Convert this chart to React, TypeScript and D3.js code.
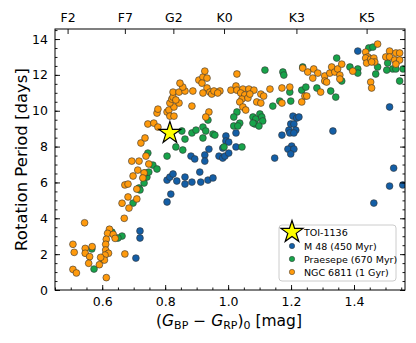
import React, { useEffect, useRef } from 'react';
import * as d3 from 'd3';

const W = 416;
const H = 343;

// spectral types on the top axis, at their (BP-RP)0 colours
const spTypes = ['F2', 'F7', 'G2', 'K0', 'K3', 'K5'];
const spColors = [0.49, 0.672, 0.826, 0.987, 1.217, 1.44];

const xTicks = [0.6, 0.8, 1.0, 1.2, 1.4];
const yTicks = [0, 2, 4, 6, 8, 10, 12, 14];

const legendLabels = ['TOI-1136', 'M 48 (450 Myr)', 'Praesepe (670 Myr)', 'NGC 6811 (1 Gyr)'];

// [BP-RP, Prot]
const toi1136: [number, number] = [0.815, 8.76];

const m48: [number, number][] = [
  [0.707, 1.78], [0.72, 3.29], [0.72, 2.9], [0.806, 4.91], [0.818, 5.35],
  [0.806, 6.13], [0.815, 6.3], [0.825, 6.47], [0.837, 6.08], [0.863, 6.3],
  [0.863, 5.91], [0.885, 6.02], [0.91, 6.58], [0.913, 6.02], [0.936, 6.13],
  [0.952, 6.25], [0.882, 7.47], [0.894, 7.31], [0.926, 7.53], [0.926, 7.19],
  [0.939, 7.86], [0.971, 7.47], [0.983, 7.36], [0.99, 7.47], [1.002, 7.64],
  [0.983, 7.92], [0.993, 8.59], [0.993, 8.31], [1.002, 8.25], [1.025, 8.76],
  [1.025, 7.98], [1.148, 7.36], [1.171, 8.64], [1.193, 8.92], [1.196, 8.76],
  [1.206, 9.7], [1.218, 9.59], [1.225, 9.65], [1.199, 9.26], [1.209, 9.26],
  [1.215, 8.92], [1.209, 8.76], [1.202, 8.03], [1.19, 7.86], [1.209, 7.86],
  [1.199, 7.59], [1.333, 8.87], [1.412, 13.33], [1.513, 10.21], [1.463, 4.85],
  [1.513, 5.8], [1.526, 6.8], [1.555, 5.86],
];

const praesepe: [number, number][] = [
  [0.567, 2.29], [0.574, 1.17], [0.603, 1.7], [0.631, 3.23], [0.663, 3.01],
  [0.65, 2.9], [0.698, 4.85], [0.717, 5.69], [0.72, 5.58], [0.733, 5.97],
  [0.742, 6.3], [0.736, 6.53], [0.748, 6.58], [0.761, 6.97], [0.774, 6.75],
  [0.745, 7.64], [0.806, 7.47], [0.834, 7.98], [0.856, 7.81], [0.863, 8.42],
  [0.853, 8.87], [0.885, 8.76], [0.898, 8.92], [0.92, 9.09], [0.929, 8.87],
  [0.92, 8.48], [0.952, 8.7], [0.958, 8.64], [0.936, 9.48], [0.987, 7.98],
  [1.044, 7.98], [1.028, 9.93], [1.018, 9.65], [1.018, 9.15], [1.037, 9.31],
  [1.031, 9.15], [1.079, 9.65], [1.088, 9.54], [1.101, 9.82], [1.107, 9.65],
  [1.11, 9.43], [1.085, 9.26], [1.098, 9.15], [1.079, 9.31], [1.142, 10.26],
  [1.164, 10.54], [1.199, 10.54], [1.196, 11.04], [1.117, 12.27], [1.174, 12.16],
  [1.177, 11.99], [1.237, 12.44], [1.234, 11.15], [1.247, 11.32], [1.282, 11.27],
  [1.326, 11.1], [1.342, 10.76], [1.345, 12.94], [1.361, 11.66], [1.387, 12.44],
  [1.412, 12.33], [1.412, 12.1], [1.447, 13.5], [1.46, 13.55], [1.469, 12.05],
  [1.475, 12.44], [1.507, 12.66], [1.523, 12.33], [1.504, 12.27], [1.533, 12.33],
  [1.556, 12.33], [1.545, 11.66],
];

const ngc6811: [number, number][] = [
  [0.623, 3.39], [0.617, 3.16], [0.635, 3.1], [0.641, 2.88], [0.613, 2.83],
  [0.611, 2.55], [0.611, 2.23], [0.62, 2.05], [0.609, 1.95], [0.607, 1.67],
  [0.595, 1.82], [0.591, 1.41], [0.613, 0.69], [0.507, 2.55], [0.511, 2.1],
  [0.546, 2.32], [0.568, 2.42], [0.546, 2.05], [0.56, 1.86], [0.557, 1.49],
  [0.507, 1.15], [0.518, 0.95], [0.544, 3.75], [0.672, 2.01], [0.67, 4.0],
  [0.663, 4.84], [0.685, 4.57], [0.682, 5.19], [0.71, 5.08], [0.672, 5.86],
  [0.682, 5.91], [0.71, 5.63], [0.698, 6.36], [0.713, 6.69], [0.733, 6.53],
  [0.729, 6.25], [0.694, 7.19], [0.717, 7.19], [0.748, 7.03], [0.739, 7.47],
  [0.723, 8.2], [0.736, 8.48], [0.745, 9.26], [0.764, 9.31], [0.777, 9.09],
  [0.774, 9.87], [0.777, 10.09], [0.806, 9.93], [0.812, 10.04], [0.815, 9.7],
  [0.828, 9.7], [0.828, 10.21], [0.815, 10.43], [0.844, 10.43], [0.821, 10.65],
  [0.825, 10.76], [0.834, 10.6], [0.825, 11.04], [0.844, 11.04], [0.863, 11.1],
  [0.856, 11.32], [0.847, 11.54], [0.888, 11.1], [0.885, 10.26], [0.907, 11.71],
  [0.92, 11.88], [0.933, 11.82], [0.926, 12.21], [0.917, 11.54], [0.933, 11.27],
  [0.942, 11.04], [0.948, 10.93], [0.955, 11.1], [0.974, 11.1], [0.967, 10.99],
  [0.92, 10.99], [0.939, 9.93], [0.929, 9.65], [1.009, 11.15], [1.025, 11.38],
  [1.028, 11.15], [1.028, 12.05], [1.047, 11.21], [1.066, 11.21], [1.082, 11.15],
  [1.04, 10.99], [1.053, 10.88], [1.044, 10.65], [1.063, 10.71], [1.069, 10.93],
  [1.104, 10.93], [1.113, 10.82], [1.091, 10.49], [1.104, 10.43], [1.037, 10.49],
  [1.047, 10.21], [1.056, 10.04], [1.133, 11.21], [1.171, 11.27], [1.196, 11.32],
  [1.171, 10.43], [1.237, 12.38], [1.253, 12.16], [1.272, 12.33], [1.269, 11.82],
  [1.285, 12.1], [1.307, 11.94], [1.307, 11.66], [1.313, 11.6], [1.323, 12.1],
  [1.329, 12.44], [1.339, 12.16], [1.348, 12.33], [1.361, 12.6], [1.355, 11.99],
  [1.355, 11.77], [1.294, 11.04], [1.234, 10.49], [1.244, 10.82], [1.25, 10.82],
  [1.396, 12.21], [1.437, 13.27], [1.444, 13.0], [1.437, 12.94], [1.44, 12.66],
  [1.453, 12.88], [1.463, 12.94], [1.466, 12.72], [1.456, 12.72], [1.475, 13.72],
  [1.501, 13.0], [1.513, 13.33], [1.533, 13.22], [1.545, 13.22], [1.513, 13.0],
  [1.529, 12.83], [1.545, 12.83], [1.533, 12.6], [1.453, 11.6], [1.456, 11.27],
];

const colM48 = '#135ea6';
const colPraesepe = '#17a34a';
const colNgc = '#ff9a0c';

export default function App() {
  const svgRef = useRef<SVGSVGElement>(null);

  useEffect(() => {
    const svg = d3.select(svgRef.current);
    svg.selectAll('*').remove();

    const left = 55, right = 405, top = 29, bottom = 290;
    const x = d3.scaleLinear().domain([0.45, 1.562]).range([left, right]);
    const y = d3.scaleLinear().domain([0, 14.56]).range([bottom, top]);

    svg.append('defs').append('clipPath').attr('id', 'plotclip')
      .append('rect').attr('x', left).attr('y', top)
      .attr('width', right - left).attr('height', bottom - top);

    const pts = svg.append('g').attr('clip-path', 'url(#plotclip)');
    const drawSet = (data: [number, number][], color: string) => {
      pts.append('g').selectAll('circle')
        .data(data)
        .join('circle')
        .attr('cx', d => x(d[0]))
        .attr('cy', d => y(d[1]))
        .attr('r', 3.4)
        .attr('fill', color)
        .attr('stroke', '#333')
        .attr('stroke-width', 0.6);
    };
    drawSet(m48, colM48);
    drawSet(praesepe, colPraesepe);
    drawSet(ngc6811, colNgc);

    const star = d3.symbol().type(d3.symbolStar).size(150);
    svg.append('path')
      .attr('d', star()!)
      .attr('transform', `translate(${x(toi1136[0])},${y(toi1136[1])})`)
      .attr('fill', '#ffff00')
      .attr('stroke', '#000')
      .attr('stroke-width', 1.2)
      .attr('stroke-linejoin', 'miter');

    // axes, ticks pointing inward
    const styleAxis = (g: d3.Selection<SVGGElement, unknown, null, undefined>) => {
      g.select('.domain').remove();
      g.selectAll('line').attr('stroke', '#000').attr('stroke-width', 0.9);
      g.selectAll('text').attr('fill', '#000').attr('font-size', 12.5)
        .attr('font-family', 'DejaVu Sans');
    };
    const xMinor = d3.range(0.45, 1.5601, 0.05);
    const yMinor = d3.range(0, 14.51, 0.5);

    svg.append('g').attr('transform', `translate(0,${bottom})`)
      .call(d3.axisBottom(x).tickValues(xMinor).tickSize(-2.5).tickFormat(() => ''))
      .call(styleAxis);
    svg.append('g').attr('transform', `translate(0,${bottom})`)
      .call(d3.axisBottom(x).tickValues(xTicks).tickSize(-5).tickPadding(7).tickFormat(d3.format('.1f')))
      .call(styleAxis);

    svg.append('g').attr('transform', `translate(${left},0)`)
      .call(d3.axisLeft(y).tickValues(yMinor).tickSize(-2.5).tickFormat(() => ''))
      .call(styleAxis);
    svg.append('g').attr('transform', `translate(${left},0)`)
      .call(d3.axisLeft(y).tickValues(yTicks).tickSize(-5).tickPadding(7).tickFormat(d3.format('d')))
      .call(styleAxis);

    svg.append('g').attr('transform', `translate(${right},0)`)
      .call(d3.axisRight(y).tickValues(yMinor).tickSize(-2.5).tickFormat(() => ''))
      .call(styleAxis);
    svg.append('g').attr('transform', `translate(${right},0)`)
      .call(d3.axisRight(y).tickValues(yTicks).tickSize(-5).tickFormat(() => ''))
      .call(styleAxis);

    svg.append('g').attr('transform', `translate(0,${top})`)
      .call(d3.axisTop(x).tickValues(spColors).tickSize(-5).tickPadding(7)
        .tickFormat((d, i) => spTypes[i]))
      .call(styleAxis);

    svg.append('rect')
      .attr('x', left).attr('y', top)
      .attr('width', right - left).attr('height', bottom - top)
      .attr('fill', 'none').attr('stroke', '#000').attr('stroke-width', 1);

    // axis labels
    svg.append('text')
      .attr('transform', `translate(21,${(top + bottom) / 2}) rotate(-90)`)
      .attr('text-anchor', 'middle')
      .attr('dominant-baseline', 'central')
      .attr('font-size', 16.5)
      .text('Rotation Period [days]');

    const xl = svg.append('text')
      .attr('x', (left + right) / 2 - 1).attr('y', 326)
      .attr('text-anchor', 'middle')
      .attr('font-size', 15.5);
    xl.append('tspan').text('(');
    xl.append('tspan').attr('font-style', 'italic').text('G');
    xl.append('tspan').attr('font-size', 11).attr('dy', 3).text('BP');
    xl.append('tspan').attr('dy', -3).text(' \u2212 ');
    xl.append('tspan').attr('font-style', 'italic').text('G');
    xl.append('tspan').attr('font-size', 11).attr('dy', 3).text('RP');
    xl.append('tspan').attr('dy', -3).text(')');
    xl.append('tspan').attr('font-size', 11).attr('dy', 3).text('0');
    xl.append('tspan').attr('dy', -3).text(' [mag]');

    // legend
    const lg = svg.append('g').attr('transform', 'translate(279,225)');
    lg.append('rect')
      .attr('width', 117).attr('height', 56).attr('rx', 3)
      .attr('fill', '#fff').attr('fill-opacity', 0.8)
      .attr('stroke', '#cccccc').attr('stroke-width', 1);
    const rowY = [7, 21, 34, 47];
    lg.append('path')
      .attr('d', star()!)
      .attr('transform', `translate(13,${rowY[0]})`)
      .attr('fill', '#ffff00').attr('stroke', '#000').attr('stroke-width', 1.2);
    const legCols = [colM48, colPraesepe, colNgc];
    legCols.forEach((c, i) => {
      lg.append('circle')
        .attr('cx', 13).attr('cy', rowY[i + 1]).attr('r', 2.7)
        .attr('fill', c).attr('stroke', '#333').attr('stroke-width', 0.5);
    });
    lg.selectAll('text.lab')
      .data(legendLabels)
      .join('text')
      .attr('class', 'lab')
      .attr('x', 25)
      .attr('y', (d, i) => rowY[i])
      .attr('dominant-baseline', 'central')
      .attr('font-size', 9.5)
      .text(d => d);
  }, []);

  return (
    <div style={{ position: 'absolute', left: 0, top: 0 }}>
      <svg ref={svgRef} width={W} height={H}
        style={{ fontFamily: 'DejaVu Sans', display: 'block', background: '#fff' }} />
    </div>
  );
}
